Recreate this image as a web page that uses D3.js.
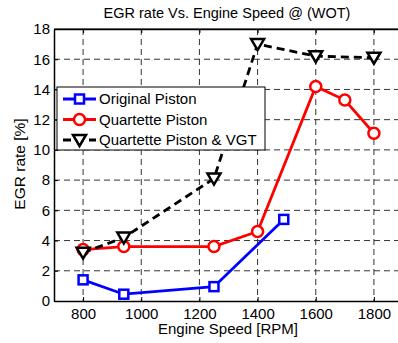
<!DOCTYPE html>
<html><head><meta charset="utf-8">
<script src="https://cdn.jsdelivr.net/npm/d3@7"></script>
<style>body{margin:0;background:#fff;}svg{display:block;font-family:"Liberation Sans",Arial,sans-serif;}</style>
</head><body><svg id="c" width="398" height="343"></svg>
<script>
const xTicks = [800, 1000, 1200, 1400, 1600, 1800];
const yTicks = [0, 2, 4, 6, 8, 10, 12, 14, 16, 18];
const originalX = [800, 940, 1250, 1490];
const originalY = [1.4, 0.45, 0.95, 5.4];
const quartetteX = [800, 940, 1250, 1400, 1600, 1700, 1800];
const quartetteY = [3.4, 3.6, 3.6, 4.6, 14.2, 13.3, 11.1];
const vgtX = [800, 940, 1250, 1400, 1600, 1800];
const vgtY = [3.2, 4.2, 8.1, 17.0, 16.2, 16.1];
const seriesNames = ["Original Piston", "Quartette Piston", "Quartette Piston & VGT"];

const svg = d3.select("#c");
const L = 54, R = 403, T = 29, B = 301;
const x = d3.scaleLinear().domain([700, 1900]).range([L, R]);
const y = d3.scaleLinear().domain([0, 18]).range([B, T]);

// grid
const g = svg.append("g");
g.selectAll(".gx").data(xTicks).enter().append("line")
  .attr("x1", d => x(d)).attr("x2", d => x(d)).attr("y1", T).attr("y2", B)
  .attr("stroke", "#333").attr("stroke-width", 1).attr("stroke-dasharray", "6,4");
g.selectAll(".gy").data(yTicks.slice(1, -1)).enter().append("line")
  .attr("y1", d => y(d)).attr("y2", d => y(d)).attr("x1", L).attr("x2", R)
  .attr("stroke", "#333").attr("stroke-width", 1).attr("stroke-dasharray", "6,4");

// axes
const fmt = d3.format("d");
const xAxis = d3.axisBottom(x).tickValues(xTicks).tickFormat(fmt).tickSizeInner(-4).tickSizeOuter(0).tickPadding(7);
const yAxis = d3.axisLeft(y).tickValues(yTicks).tickFormat(fmt).tickSizeInner(-4).tickSizeOuter(0).tickPadding(4);
const xa = svg.append("g").attr("transform", `translate(0,${B})`).call(xAxis);
const ya = svg.append("g").attr("transform", `translate(${L},0)`).call(yAxis);
const xt = svg.append("g").attr("transform", `translate(0,${T})`).call(d3.axisTop(x).tickValues(xTicks).tickSizeInner(-4).tickSizeOuter(0).tickFormat(""));
[xa, ya, xt].forEach(a => {
  a.selectAll("path").attr("stroke", "#000").attr("stroke-width", 1.5);
  a.selectAll("line").attr("stroke", "#000");
  a.selectAll("text").attr("font-size", 15).attr("fill", "#000").attr("font-family", "Liberation Sans, Arial, sans-serif");
});
svg.append("line").attr("x1", L).attr("x2", R).attr("y1", T).attr("y2", T).attr("stroke", "#000").attr("stroke-width", 1.2);

// labels
svg.append("text").attr("x", 227).attr("y", 18).attr("text-anchor", "middle").attr("font-size", 14.5).text("EGR rate Vs. Engine Speed @ (WOT)");
svg.append("text").attr("x", 228).attr("y", 334).attr("text-anchor", "middle").attr("font-size", 15).text("Engine Speed [RPM]");
svg.append("text").attr("transform", "translate(25,164) rotate(-90)").attr("text-anchor", "middle").attr("font-size", 15.5).text("EGR rate [%]");

const line = d3.line().x(d => x(d[0])).y(d => y(d[1]));
const ser = [
  {pts: d3.zip(originalX, originalY), color: "#0000ff", dash: null, m: "square"},
  {pts: d3.zip(quartetteX, quartetteY), color: "#ff0000", dash: null, m: "circle"},
  {pts: d3.zip(vgtX, vgtY), color: "#000", dash: "8,5", m: "tri"}
];
function marker(sel, s, cx, cy) {
  if (s.m === "square") sel.append("rect").attr("x", cx - 4.5).attr("y", cy - 4.5).attr("width", 9).attr("height", 9)
    .attr("fill", "#fff").attr("stroke", s.color).attr("stroke-width", 2.5);
  else if (s.m === "circle") sel.append("circle").attr("cx", cx).attr("cy", cy).attr("r", 5.5)
    .attr("fill", "#fff").attr("stroke", s.color).attr("stroke-width", 2.5);
  else sel.append("path").attr("d", `M${cx-6.5},${cy-5} L${cx+6.5},${cy-5} L${cx},${cy+6} Z`)
    .attr("fill", "#fff").attr("stroke", s.color).attr("stroke-width", 2.5);
}
ser.forEach(s => {
  svg.append("path").datum(s.pts).attr("d", line).attr("fill", "none").attr("stroke", s.color)
    .attr("stroke-width", 2.8).attr("stroke-dasharray", s.dash);
  s.pts.forEach(p => marker(svg, s, x(p[0]), y(p[1])));
});

// legend
const lg = svg.append("g");
lg.append("rect").attr("x", 57).attr("y", 87).attr("width", 208).attr("height", 63)
  .attr("fill", "#fff").attr("stroke", "#000").attr("stroke-width", 1);
ser.forEach((s, i) => {
  const ly = 99 + i * 20.5;
  lg.append("line").attr("x1", 63).attr("x2", 96).attr("y1", ly).attr("y2", ly)
    .attr("stroke", s.color).attr("stroke-width", 2.8).attr("stroke-dasharray", s.dash);
  marker(lg, s, 79.5, ly);
  lg.append("text").attr("x", 99).attr("y", ly + 5).attr("font-size", 15).text(seriesNames[i]);
});
</script></body></html>
